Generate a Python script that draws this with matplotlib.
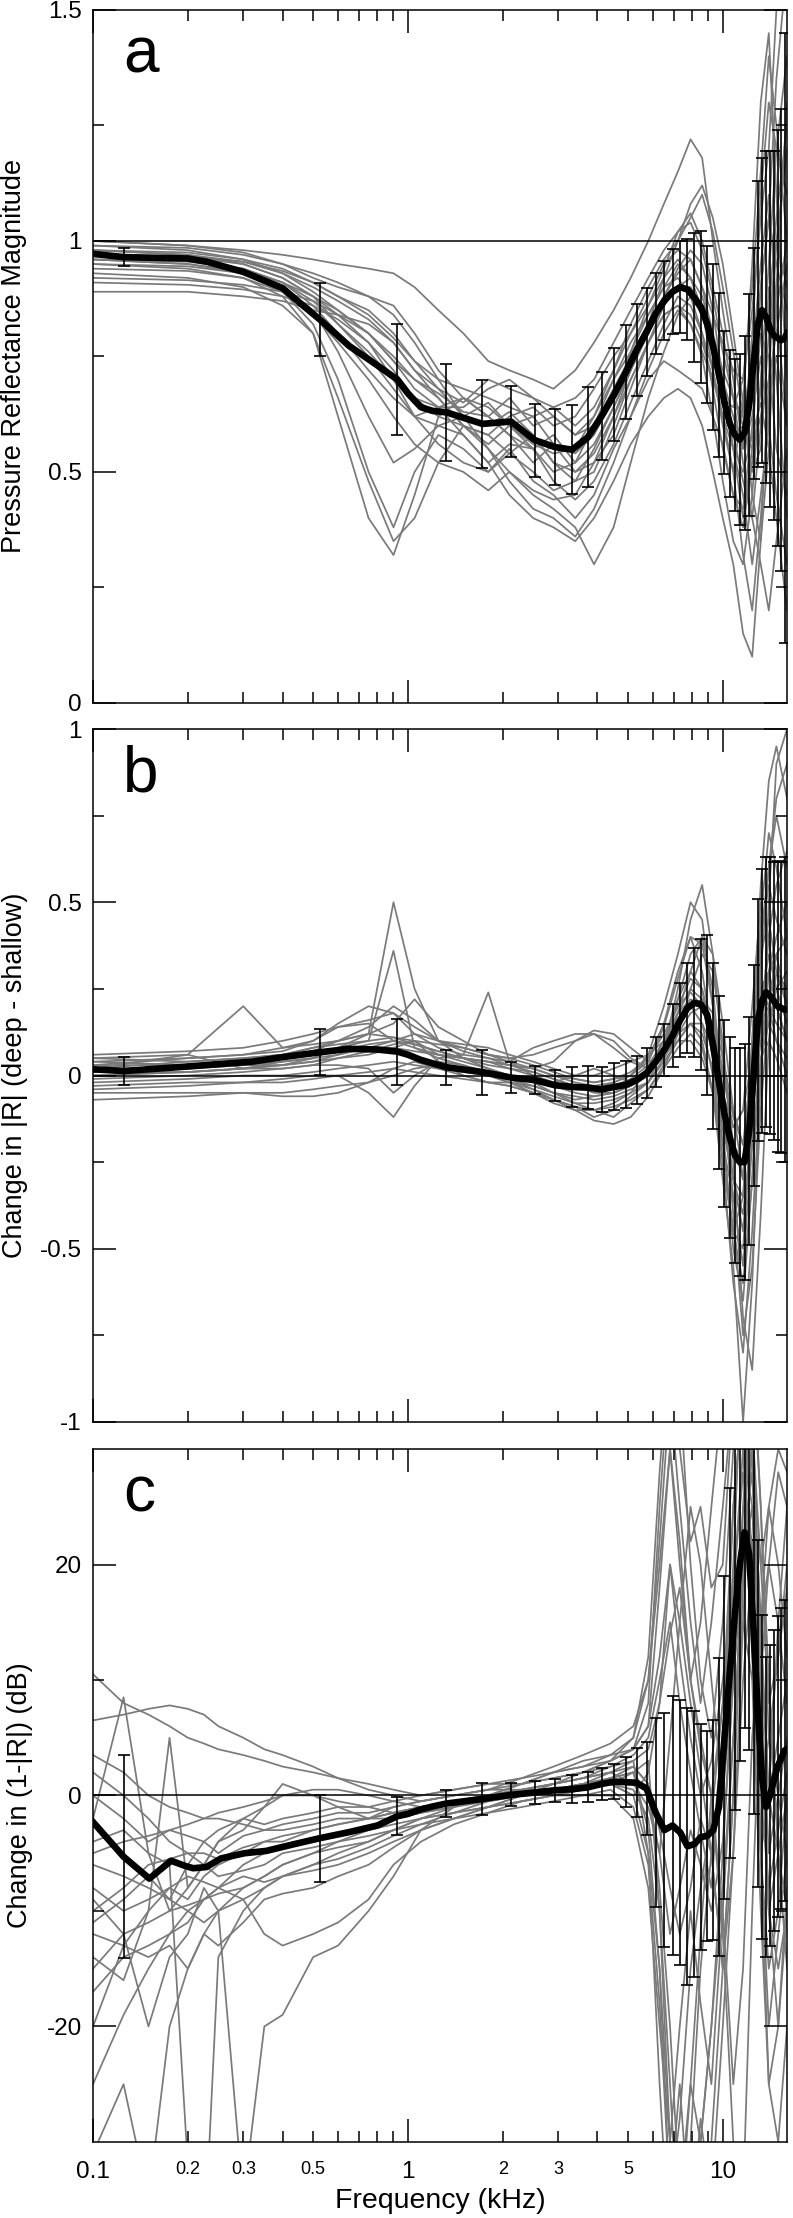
import matplotlib
matplotlib.use("Agg")
import matplotlib.pyplot as plt
import numpy as np
from matplotlib.ticker import FixedLocator, FixedFormatter

plt.rcParams['font.family'] = ['Liberation Sans', 'DejaVu Sans']

# frequencies (kHz) where the error bars sit
err_freq = [0.125, 0.525, 0.925, 1.325, 1.725, 2.125, 2.525, 2.925, 3.325, 3.725,
            4.125, 4.525, 4.925, 5.325, 5.725, 6.125, 6.525, 6.925, 7.325, 7.725,
            8.125, 8.525, 8.925, 9.325, 9.725, 10.125, 10.525, 10.925, 11.325, 11.725,
            12.125, 12.525, 12.925, 13.325, 13.725, 14.125, 14.525, 14.925, 15.325, 15.725]

# ---- panel a: pressure reflectance magnitude ----
a_err_mean = [0.965, 0.83, 0.70, 0.629, 0.604, 0.609, 0.569, 0.554, 0.548, 0.575,
              0.621, 0.668, 0.716, 0.764, 0.803, 0.843, 0.871, 0.89, 0.90, 0.895,
              0.877, 0.857, 0.82, 0.77, 0.71, 0.65, 0.605, 0.58, 0.57, 0.585,
              0.645, 0.735, 0.82, 0.85, 0.835, 0.81, 0.795, 0.79, 0.785, 0.79]
a_err_hw = [0.02, 0.078, 0.12, 0.105, 0.095, 0.077, 0.079, 0.082, 0.096, 0.108,
            0.095, 0.1, 0.102, 0.1, 0.095, 0.087, 0.085, 0.092, 0.1, 0.11,
            0.14, 0.165, 0.17, 0.18, 0.177, 0.155, 0.16, 0.165, 0.185, 0.21,
            0.24, 0.25, 0.31, 0.33, 0.36, 0.385, 0.4, 0.45, 0.5, 0.66]
a_extra_f = [0.1, 0.2, 0.23, 0.3, 0.4, 0.45, 0.65, 0.81, 1.0, 1.1, 1.2, 16.0]
a_extra_mean = [0.972, 0.962, 0.955, 0.933, 0.898, 0.868, 0.773, 0.728, 0.67, 0.64, 0.632, 0.80]

# ---- panel b: change in |R| ----
b_err_mean = [0.013, 0.067, 0.069, 0.024, 0.01, -0.006, -0.013, -0.028, -0.033, -0.035,
              -0.04, -0.033, -0.027, -0.013, 0.007, 0.04, 0.075, 0.115, 0.16, 0.195,
              0.21, 0.205, 0.175, 0.085, -0.02, -0.11, -0.18, -0.23, -0.25, -0.25,
              -0.16, 0.0, 0.16, 0.215, 0.24, 0.23, 0.215, 0.2, 0.195, 0.19]
b_err_hw = [0.04, 0.066, 0.095, 0.05, 0.065, 0.045, 0.04, 0.045, 0.057, 0.063,
            0.066, 0.068, 0.068, 0.07, 0.073, 0.072, 0.075, 0.09, 0.107, 0.13,
            0.157, 0.19, 0.23, 0.24, 0.25, 0.27, 0.29, 0.31, 0.33, 0.34,
            0.33, 0.32, 0.35, 0.38, 0.39, 0.4, 0.4, 0.42, 0.42, 0.44]
b_extra_f = [0.1, 0.18, 0.32, 0.4, 0.65, 0.8, 1.0, 1.1, 1.2, 16.0]
b_extra_mean = [0.018, 0.023, 0.04, 0.053, 0.077, 0.075, 0.06, 0.045, 0.035, 0.19]

# ---- panel c: change in (1-|R|) dB ----
c_err_mean = [-5.3, -3.7, -1.8, -0.7, -0.3, 0.05, 0.25, 0.45, 0.55, 0.7,
              1.0, 1.2, 1.15, 1.1, 0.6, -1.5, -3.0, -2.6, -3.2, -4.4,
              -4.2, -3.6, -3.5, -3.0, -1.0, 5.0, 10.6, 15.7, 20.0, 22.8,
              20.9, 14.4, 7.1, 1.6, -1.0, 0.0, 1.3, 2.5, 3.2, 3.9]
c_err_hw = [8.8, 3.75, 1.65, 1.2, 1.4, 1.0, 1.0, 1.0, 1.2, 1.3,
            1.4, 1.5, 2.15, 3.0, 4.0, 8.2, 10.1, 11.2, 11.5, 12.0,
            11.5, 9.8, 9.1, 9.5, 12.9, 14.0, 16.0, 17.0, 17.0, 17.0,
            17.0, 16.0, 15.0, 14.0, 13.0, 13.0, 13.0, 13.0, 13.0, 13.0]
c_extra_f = [0.1, 0.151, 0.177, 0.196, 0.208, 0.229, 0.255, 0.303, 0.355, 0.43,
             0.654, 0.8, 1.0, 1.1, 1.2, 16.0]
c_extra_mean = [-2.3, -7.2, -5.65, -6.1, -6.3, -6.2, -5.45, -5.0, -4.8, -4.25,
                -3.16, -2.6, -1.6, -1.2, -0.95, 4.0]

# individual ears (gray traces)
ab_freq = [0.1, 0.2, 0.3, 0.4, 0.5, 0.6, 0.75, 0.9, 1.05, 1.25, 1.5, 1.8, 2.1, 2.5, 2.9,
           3.4, 3.9, 4.5, 5.1, 5.8, 6.5, 7.2, 7.9, 8.6, 9.3, 10.0, 10.8, 11.6, 12.4, 13.2,
           14.0, 14.8, 16.0]

a_ears = [
    [1.0, 0.99, 0.98, 0.97, 0.96, 0.95, 0.94, 0.93, 0.90, 0.85, 0.80, 0.74, 0.72, 0.70, 0.68, 0.72, 0.78, 0.85, 0.92, 1.0, 1.08, 1.15, 1.22, 1.18, 1.0, 0.85, 0.70, 0.55, 0.80, 1.10, 1.30, 1.20, 1.10],
    [0.98, 0.97, 0.95, 0.92, 0.88, 0.82, 0.75, 0.68, 0.62, 0.60, 0.62, 0.65, 0.60, 0.55, 0.58, 0.52, 0.56, 0.64, 0.72, 0.80, 0.88, 0.94, 0.98, 0.95, 0.85, 0.70, 0.55, 0.40, 0.55, 0.90, 1.05, 0.95, 0.85],
    [0.96, 0.95, 0.93, 0.89, 0.82, 0.70, 0.50, 0.38, 0.50, 0.58, 0.55, 0.50, 0.55, 0.48, 0.45, 0.40, 0.45, 0.55, 0.62, 0.72, 0.80, 0.85, 0.82, 0.75, 0.62, 0.48, 0.35, 0.30, 0.45, 0.70, 0.95, 1.20, 1.40],
    [0.93, 0.92, 0.90, 0.86, 0.80, 0.62, 0.40, 0.32, 0.45, 0.62, 0.66, 0.62, 0.58, 0.55, 0.50, 0.52, 0.60, 0.70, 0.78, 0.84, 0.90, 0.95, 0.92, 0.85, 0.78, 0.70, 0.62, 0.55, 0.62, 0.75, 0.60, 0.45, 0.30],
    [0.89, 0.89, 0.88, 0.87, 0.85, 0.84, 0.82, 0.78, 0.72, 0.66, 0.60, 0.58, 0.62, 0.64, 0.60, 0.62, 0.68, 0.75, 0.80, 0.86, 0.92, 0.96, 0.92, 0.85, 0.72, 0.60, 0.50, 0.65, 0.95, 1.30, 1.45, 1.10, 0.70],
    [0.97, 0.96, 0.94, 0.91, 0.86, 0.80, 0.72, 0.66, 0.62, 0.64, 0.66, 0.62, 0.66, 0.60, 0.62, 0.58, 0.62, 0.70, 0.76, 0.84, 0.90, 0.92, 0.88, 0.80, 0.68, 0.55, 0.45, 0.42, 0.60, 0.80, 0.75, 0.55, 0.45],
    [0.99, 0.98, 0.96, 0.93, 0.90, 0.87, 0.83, 0.78, 0.72, 0.68, 0.65, 0.70, 0.68, 0.66, 0.62, 0.58, 0.60, 0.68, 0.75, 0.82, 0.88, 0.93, 0.96, 0.90, 0.80, 0.68, 0.58, 0.60, 0.75, 0.95, 1.10, 0.85, 0.60],
    [0.95, 0.94, 0.92, 0.88, 0.80, 0.66, 0.48, 0.35, 0.40, 0.52, 0.60, 0.55, 0.48, 0.42, 0.40, 0.36, 0.42, 0.52, 0.62, 0.70, 0.74, 0.72, 0.70, 0.68, 0.62, 0.56, 0.45, 0.38, 0.52, 0.68, 0.85, 1.05, 1.25],
    [0.97, 0.965, 0.95, 0.92, 0.88, 0.84, 0.78, 0.72, 0.66, 0.62, 0.60, 0.56, 0.60, 0.62, 0.56, 0.50, 0.52, 0.58, 0.68, 0.78, 0.86, 0.90, 0.92, 0.88, 0.80, 0.72, 0.66, 0.60, 0.55, 0.62, 0.70, 0.80, 0.95],
    [0.98, 0.975, 0.96, 0.94, 0.91, 0.88, 0.84, 0.79, 0.74, 0.68, 0.62, 0.60, 0.63, 0.58, 0.52, 0.48, 0.50, 0.60, 0.70, 0.78, 0.84, 0.86, 0.84, 0.78, 0.70, 0.62, 0.55, 0.50, 0.58, 0.65, 0.55, 0.40, 0.20],
    [0.94, 0.935, 0.92, 0.89, 0.84, 0.78, 0.70, 0.62, 0.56, 0.52, 0.50, 0.46, 0.50, 0.45, 0.42, 0.38, 0.30, 0.38, 0.52, 0.66, 0.76, 0.84, 0.88, 0.84, 0.76, 0.66, 0.55, 0.45, 0.30, 0.45, 0.60, 0.85, 1.00],
    [0.96, 0.955, 0.94, 0.91, 0.87, 0.82, 0.76, 0.70, 0.66, 0.64, 0.64, 0.68, 0.70, 0.66, 0.64, 0.66, 0.70, 0.78, 0.85, 0.92, 0.98, 1.02, 1.04, 0.98, 0.88, 0.76, 0.66, 0.62, 0.75, 0.90, 1.05, 1.35, 1.60],
    [0.92, 0.915, 0.905, 0.89, 0.87, 0.84, 0.80, 0.74, 0.68, 0.64, 0.58, 0.52, 0.56, 0.55, 0.48, 0.44, 0.48, 0.56, 0.65, 0.74, 0.82, 0.88, 0.86, 0.80, 0.72, 0.62, 0.50, 0.32, 0.20, 0.40, 0.65, 0.75, 0.60],
    [1.0, 0.99, 0.975, 0.95, 0.92, 0.90, 0.88, 0.86, 0.80, 0.72, 0.66, 0.64, 0.60, 0.56, 0.54, 0.55, 0.62, 0.72, 0.82, 0.90, 0.96, 1.00, 1.05, 1.10, 1.02, 0.90, 0.76, 0.62, 0.50, 0.55, 0.80, 1.00, 0.90],
    [0.99, 0.985, 0.97, 0.95, 0.93, 0.91, 0.88, 0.84, 0.78, 0.70, 0.62, 0.55, 0.50, 0.46, 0.44, 0.45, 0.52, 0.62, 0.72, 0.82, 0.92, 1.00, 1.08, 1.12, 1.05, 0.95, 0.80, 0.65, 0.45, 0.35, 0.55, 0.90, 1.30],
    [0.95, 0.945, 0.93, 0.90, 0.85, 0.76, 0.62, 0.52, 0.55, 0.60, 0.58, 0.52, 0.45, 0.40, 0.38, 0.35, 0.40, 0.48, 0.56, 0.62, 0.66, 0.68, 0.66, 0.60, 0.50, 0.40, 0.30, 0.15, 0.10, 0.35, 0.70, 1.00, 1.20],
    [0.97, 0.965, 0.955, 0.935, 0.91, 0.88, 0.85, 0.80, 0.74, 0.70, 0.68, 0.66, 0.64, 0.62, 0.64, 0.60, 0.64, 0.72, 0.80, 0.88, 0.95, 0.98, 0.96, 0.90, 0.84, 0.78, 0.72, 0.70, 0.85, 1.05, 1.20, 1.50, 1.60],
    [0.91, 0.905, 0.895, 0.88, 0.86, 0.83, 0.78, 0.70, 0.62, 0.56, 0.52, 0.50, 0.54, 0.50, 0.46, 0.48, 0.55, 0.64, 0.72, 0.80, 0.86, 0.90, 0.90, 0.86, 0.78, 0.68, 0.58, 0.48, 0.40, 0.30, 0.20, 0.35, 0.55],
    [0.98, 0.97, 0.955, 0.93, 0.89, 0.85, 0.80, 0.74, 0.70, 0.66, 0.60, 0.58, 0.54, 0.58, 0.52, 0.50, 0.54, 0.62, 0.70, 0.78, 0.84, 0.86, 0.82, 0.76, 0.70, 0.66, 0.64, 0.70, 0.90, 1.15, 1.40, 1.25, 1.00],
    [0.96, 0.95, 0.935, 0.91, 0.88, 0.85, 0.80, 0.75, 0.70, 0.67, 0.63, 0.62, 0.58, 0.52, 0.56, 0.54, 0.58, 0.66, 0.76, 0.86, 0.94, 1.02, 1.06, 1.00, 0.90, 0.80, 0.66, 0.52, 0.40, 0.60, 0.90, 0.70, 0.40],
]

b_ears = [
    [0.03, 0.05, 0.06, 0.08, 0.09, 0.10, 0.12, 0.15, 0.22, 0.14, 0.10, 0.06, 0.04, 0.02, 0.00, -0.02, -0.03, -0.02, 0.00, 0.05, 0.15, 0.30, 0.40, 0.30, 0.10, -0.20, -0.45, -0.50, -0.10, 0.40, 0.55, 0.45, 0.35],
    [0.00, 0.01, 0.02, 0.03, 0.05, 0.08, 0.12, 0.50, 0.25, 0.10, 0.05, 0.02, 0.00, -0.02, -0.03, -0.05, -0.06, -0.05, -0.03, 0.00, 0.08, 0.18, 0.25, 0.22, 0.05, -0.15, -0.30, -0.35, 0.00, 0.25, 0.30, 0.20, 0.10],
    [-0.03, -0.02, -0.02, -0.01, 0.00, 0.00, -0.05, -0.12, -0.03, 0.05, 0.03, 0.00, -0.02, -0.05, -0.08, -0.10, -0.10, -0.08, -0.05, 0.02, 0.10, 0.22, 0.30, 0.25, 0.05, -0.25, -0.60, -0.80, -0.45, 0.00, 0.30, 0.40, 0.50],
    [0.05, 0.06, 0.20, 0.08, 0.10, 0.14, 0.15, 0.10, 0.08, 0.06, 0.05, 0.04, 0.03, 0.02, 0.00, -0.01, -0.02, -0.01, 0.00, 0.06, 0.20, 0.35, 0.50, 0.45, 0.20, -0.10, -0.35, -0.55, -0.20, 0.30, 0.60, 0.75, 0.60],
    [-0.07, -0.06, -0.05, -0.05, -0.04, -0.03, -0.02, 0.00, 0.02, 0.03, 0.02, 0.00, -0.02, -0.04, -0.06, -0.08, -0.08, -0.07, -0.05, -0.02, 0.05, 0.12, 0.15, 0.12, 0.02, -0.10, -0.20, -0.30, -0.10, 0.10, 0.15, 0.10, 0.05],
    [0.02, 0.02, 0.03, 0.04, 0.05, 0.08, 0.10, 0.36, 0.08, 0.05, 0.06, 0.24, 0.04, 0.00, -0.02, 0.00, 0.02, 0.00, -0.02, 0.02, 0.10, 0.18, 0.22, 0.20, 0.15, 0.00, -0.15, -0.10, 0.20, 0.50, 0.40, 0.20, 0.10],
    [0.04, 0.05, 0.06, 0.07, 0.10, 0.15, 0.20, 0.18, 0.12, 0.08, 0.06, 0.05, 0.04, 0.08, 0.10, 0.12, 0.12, 0.08, 0.04, 0.02, 0.05, 0.12, 0.18, 0.20, 0.15, 0.02, -0.12, -0.20, 0.05, 0.25, 0.20, 0.10, 0.00],
    [0.01, 0.01, 0.02, 0.03, 0.04, 0.05, 0.06, 0.08, 0.10, 0.04, 0.00, -0.02, -0.03, -0.05, -0.07, -0.09, -0.12, -0.10, -0.06, -0.02, 0.08, 0.22, 0.35, 0.40, 0.25, -0.05, -0.40, -0.75, -0.55, -0.10, 0.20, 0.35, 0.20],
    [-0.05, -0.05, -0.05, -0.06, -0.06, -0.05, -0.02, 0.02, 0.04, 0.02, 0.00, -0.02, -0.02, -0.03, -0.05, -0.07, -0.06, -0.05, -0.03, 0.00, 0.06, 0.10, 0.10, 0.05, -0.05, -0.20, -0.35, -0.40, -0.20, 0.05, 0.10, 0.05, -0.05],
    [0.02, 0.06, 0.02, 0.04, 0.05, 0.06, 0.08, 0.10, 0.09, 0.07, 0.05, 0.03, 0.02, 0.00, -0.02, -0.04, -0.04, -0.03, -0.01, 0.03, 0.10, 0.20, 0.28, 0.25, 0.12, -0.10, -0.30, -0.45, -0.10, 0.35, 0.45, 0.30, 0.25],
    [0.00, 0.01, 0.02, 0.02, 0.03, 0.05, 0.07, 0.09, 0.10, 0.06, 0.04, 0.02, 0.00, -0.02, -0.05, -0.08, -0.10, -0.12, -0.08, -0.04, 0.03, 0.10, 0.15, 0.10, -0.05, -0.30, -0.55, -1.00, -0.60, 0.00, 0.50, 0.90, 1.00],
    [0.03, 0.03, 0.04, 0.05, 0.07, 0.10, 0.12, 0.11, 0.09, 0.07, 0.05, 0.04, 0.03, 0.02, 0.04, 0.10, 0.12, 0.10, 0.05, 0.02, 0.08, 0.25, 0.45, 0.55, 0.35, 0.05, -0.20, -0.25, 0.10, 0.45, 0.70, 0.60, 0.40],
    [-0.02, -0.01, 0.00, 0.00, 0.01, 0.02, 0.03, 0.04, 0.03, 0.02, 0.01, 0.00, -0.01, -0.03, -0.05, -0.06, -0.07, -0.06, -0.04, -0.02, 0.04, 0.10, 0.15, 0.15, 0.08, -0.05, -0.15, -0.10, 0.05, 0.15, 0.20, 0.15, 0.10],
    [0.05, 0.04, 0.05, 0.06, 0.08, 0.09, 0.10, 0.11, 0.10, 0.09, 0.08, 0.06, 0.05, 0.03, 0.01, -0.01, -0.02, -0.01, 0.01, 0.05, 0.12, 0.20, 0.24, 0.20, 0.08, -0.15, -0.50, -0.65, -0.30, 0.15, 0.40, 0.55, 0.65],
    [0.06, 0.07, 0.08, 0.10, 0.12, 0.14, 0.16, 0.18, 0.14, 0.10, 0.08, 0.06, 0.05, 0.06, 0.08, 0.10, 0.13, 0.12, 0.08, 0.04, 0.06, 0.18, 0.30, 0.40, 0.35, 0.15, -0.10, -0.30, 0.10, 0.55, 0.85, 0.95, 0.80],
    [-0.01, 0.00, 0.01, 0.02, 0.03, 0.03, 0.02, -0.05, 0.00, 0.04, 0.03, 0.01, -0.01, -0.04, -0.07, -0.10, -0.13, -0.14, -0.12, -0.06, 0.02, 0.12, 0.25, 0.35, 0.30, 0.10, -0.25, -0.70, -0.85, -0.40, 0.10, 0.30, 0.20],
    [0.02, 0.04, 0.05, 0.06, 0.08, 0.10, 0.14, 0.20, 0.16, 0.10, 0.07, 0.05, 0.03, 0.01, -0.01, -0.03, -0.04, -0.02, 0.00, 0.04, 0.14, 0.28, 0.40, 0.38, 0.20, -0.05, -0.30, -0.40, -0.15, 0.20, 0.35, 0.25, 0.15],
    [0.04, 0.03, 0.04, 0.05, 0.06, 0.07, 0.09, 0.10, 0.12, 0.10, 0.09, 0.08, 0.06, 0.04, 0.02, 0.00, 0.00, 0.02, 0.04, 0.06, 0.10, 0.16, 0.20, 0.15, 0.00, -0.25, -0.45, -0.35, 0.05, 0.40, 0.60, 0.80, 0.90],
    [-0.04, -0.03, -0.02, -0.02, -0.01, 0.00, 0.01, 0.02, 0.01, 0.00, -0.01, -0.02, -0.03, -0.05, -0.07, -0.09, -0.10, -0.09, -0.07, -0.04, 0.02, 0.08, 0.12, 0.08, -0.05, -0.25, -0.45, -0.60, -0.30, 0.05, 0.15, 0.25, 0.30],
    [0.01, 0.02, 0.03, 0.03, 0.04, 0.06, 0.08, 0.08, 0.07, 0.06, 0.05, 0.04, 0.02, 0.01, -0.01, -0.03, -0.05, -0.05, -0.03, 0.00, 0.07, 0.15, 0.20, 0.22, 0.18, 0.05, -0.10, -0.20, -0.05, 0.20, 0.30, 0.35, 0.40],
]

c_freq = [0.1, 0.125, 0.15, 0.175, 0.2, 0.225, 0.25, 0.3, 0.35, 0.4, 0.5, 0.6, 0.75, 0.9, 1.1,
          1.4, 1.8, 2.3, 2.9, 3.6, 4.4, 5.2, 5.8, 6.3, 6.8, 7.3, 7.9, 8.5, 9.2, 10.0,
          10.8, 11.6, 12.4, 13.2, 14.0, 15.0, 16.0]

c_ears = [
    [10.5, 8.0, 7.0, 6.0, 5.0, 4.5, 4.0, 3.5, 3.0, 2.5, 2.0, 1.5, 1.0, 0.5, 0.0, 0.5, 1.0, 1.5, 2.0, 2.5, 3.0, 4.0, 6.0, 12.0, 20.0, 15.0, 8.0, 2.0, -5.0, -15.0, -5.0, 15.0, 32.0, 20.0, 8.0, 12.0, 18.0],
    [6.5, 7.0, 7.5, 7.8, 7.5, 7.0, 6.0, 5.0, 4.0, 3.5, 2.5, 1.5, 0.5, 0.0, -0.5, 0.0, 0.5, 0.5, 1.0, 1.5, 2.0, 2.5, 1.0, -8.0, -20.0, -35.0, -25.0, -12.0, 0.0, 8.0, 25.0, 35.0, 30.0, 5.0, -10.0, -5.0, 0.0],
    [-2.0, 8.5, -5.0, -10.0, -8.0, -6.0, -4.0, -3.0, -1.0, 1.0, 0.0, -1.0, -2.0, -2.0, -1.5, -1.0, 0.0, 0.5, 0.5, 1.0, 1.5, 2.0, 0.0, -5.0, -12.0, -8.0, -3.0, -6.0, -10.0, -4.0, 10.0, 25.0, 22.0, 0.0, -8.0, -3.0, 2.0],
    [-9.0, -12.0, -20.0, -14.0, -12.0, -8.0, -10.0, -8.0, -7.0, -6.0, -5.0, -4.5, -4.0, -3.0, -2.0, -1.0, 0.0, 0.5, 0.0, 0.5, 1.0, 0.5, -2.0, -10.0, -25.0, -40.0, -30.0, -15.0, -5.0, 5.0, 20.0, 40.0, 35.0, 10.0, -5.0, 0.0, 5.0],
    [-14.0, -16.0, -10.0, 5.0, -8.0, -6.0, -4.0, -2.0, -1.0, 0.0, 0.0, -0.5, -1.0, -1.5, -1.0, -0.5, 0.0, 0.0, 0.5, 1.0, 1.0, 0.0, 2.0, 8.0, 20.0, 12.0, 5.0, 0.0, 3.0, 10.0, 18.0, 30.0, 25.0, 12.0, 0.0, -5.0, -10.0],
    [-25.0, -19.0, -15.0, -12.0, -11.0, -9.0, -8.0, -7.0, -7.5, -7.0, -6.0, -5.5, -4.5, -3.5, -2.5, -1.5, -0.5, 0.0, 0.5, 1.0, 2.0, 3.0, 4.0, 8.0, 14.0, 18.0, 10.0, 4.0, 0.0, -10.0, -25.0, -15.0, 5.0, 15.0, 25.0, 20.0, 12.0],
    [-31.0, -25.0, -35.0, -20.0, -15.0, -12.0, -13.0, -11.0, -9.0, -8.5, -8.0, -7.0, -6.0, -4.5, -3.0, -2.0, -1.0, -0.5, 0.0, 0.5, 1.0, 2.0, -3.0, -15.0, -30.0, -20.0, -10.0, -18.0, -25.0, -10.0, 5.0, 20.0, 40.0, 25.0, 5.0, 0.0, -5.0],
    [-4.0, -3.0, -5.0, -6.0, -32.0, -40.0, -14.0, -10.0, -8.0, -7.0, -6.0, -5.0, -4.0, -3.0, -2.0, -1.5, -1.0, 0.0, 1.0, 1.5, 2.0, 1.0, -1.0, -5.0, 5.0, 15.0, 25.0, 20.0, 10.0, 0.0, 10.0, 22.0, 28.0, 10.0, -10.0, -20.0, -8.0],
    [-8.0, -10.0, -9.0, -8.0, -7.0, -7.5, -8.0, -9.0, -12.0, -13.0, -12.0, -11.0, -9.0, -6.0, -4.0, -2.5, -1.5, -0.5, 0.0, 0.5, 1.5, 2.5, 1.0, -3.0, -8.0, -12.0, -8.0, -2.0, -5.0, -15.0, 0.0, 18.0, 30.0, 15.0, 0.0, 5.0, 10.0],
    [-12.0, -13.0, -14.0, -13.0, -15.0, -12.0, -10.0, -35.0, -20.0, -19.0, -14.0, -13.0, -10.0, -7.0, -3.0, -1.0, 0.0, 1.0, 2.0, 3.0, 3.5, 4.0, 6.0, 18.0, 30.0, 22.0, 10.0, 5.0, 0.0, -12.0, -30.0, -35.0, -10.0, 10.0, 20.0, 15.0, 8.0],
    [3.5, 2.0, 0.0, -1.0, -1.5, -2.0, -2.0, -2.5, -3.0, -3.0, -2.5, -2.0, -2.0, -1.5, -1.0, -0.5, 0.0, 0.5, 1.0, 1.5, 2.5, 3.5, 5.0, 10.0, 15.0, 8.0, 2.0, -3.0, -8.0, 5.0, 25.0, 35.0, 20.0, -5.0, -15.0, -10.0, 0.0],
    [-17.0, -14.0, -13.0, -12.0, -10.0, -9.0, -8.0, -6.0, -5.0, -4.5, -4.0, -3.5, -3.0, -2.5, -2.0, -1.5, -1.0, -0.5, 0.0, 0.0, 0.5, -1.0, -6.0, -18.0, -35.0, -28.0, -15.0, -8.0, -2.0, 8.0, 18.0, 28.0, 20.0, -5.0, -20.0, -12.0, -5.0],
    [-5.0, -4.0, -3.5, -3.0, -2.5, -2.0, -1.5, -1.0, -0.5, 0.0, 0.5, 0.5, 0.0, -0.5, -1.0, -0.5, 0.0, 1.0, 2.0, 2.5, 3.5, 5.0, 10.0, 22.0, 35.0, 25.0, 15.0, 8.0, 15.0, 25.0, 35.0, 32.0, 15.0, 0.0, 5.0, 12.0, 20.0],
    [-10.0, -8.0, -6.0, -5.5, -5.0, -6.0, -7.0, -6.5, -6.0, -5.0, -4.5, -4.0, -3.5, -3.0, -2.5, -2.0, -1.5, -1.0, -0.5, 0.0, 0.0, -2.0, -8.0, -20.0, -30.0, -38.0, -25.0, -30.0, -20.0, -5.0, 10.0, 20.0, 25.0, 8.0, -10.0, -15.0, -10.0],
    [-20.0, -13.0, -10.0, -8.0, -9.0, -7.0, -6.0, -5.0, -4.0, -4.0, -3.0, -2.5, -2.0, -1.5, -1.0, -0.5, 0.0, 0.5, 1.0, 2.0, 3.0, 5.0, 12.0, 28.0, 40.0, 35.0, 20.0, 10.0, 5.0, 15.0, 30.0, 38.0, 30.0, 15.0, 20.0, 28.0, 25.0],
    [0.0, -2.0, -4.0, -3.0, -3.5, -4.0, -3.0, -2.0, -2.5, -2.0, -1.5, -1.0, -1.0, -0.5, 0.0, 0.5, 1.0, 1.0, 1.5, 2.0, 2.5, 3.0, -5.0, -25.0, -40.0, -38.0, -35.0, -30.0, -20.0, -8.0, 5.0, 15.0, 10.0, -10.0, -25.0, -20.0, -10.0],
    [-6.0, -7.0, -8.0, -9.0, -10.0, -11.0, -10.0, -9.0, -8.0, -7.0, -6.5, -6.0, -5.0, -4.0, -3.0, -2.0, -1.0, 0.0, 0.5, 1.0, 1.5, 2.0, 3.0, -10.0, -30.0, -40.0, -32.0, -38.0, -30.0, -15.0, 0.0, 25.0, 38.0, 25.0, 10.0, -5.0, -15.0],
    [2.0, 0.0, -2.0, -4.0, -5.0, -5.0, -5.5, -4.5, -4.0, -3.5, -3.0, -2.5, -2.0, -1.0, -0.5, 0.0, 0.5, 1.0, 1.5, 2.0, 3.0, 4.0, 8.0, 25.0, 38.0, 30.0, 22.0, 25.0, 18.0, 20.0, 35.0, 40.0, 30.0, 20.0, 25.0, 30.0, 28.0],
    [-15.0, -12.0, -11.0, -10.0, -9.5, -9.0, -8.5, -8.0, -7.0, -6.0, -5.0, -4.0, -3.0, -2.0, -1.5, -1.0, -0.5, 0.0, 0.5, 1.0, 1.0, 0.0, -5.0, -15.0, -35.0, -25.0, -38.0, -28.0, -35.0, -20.0, -5.0, 10.0, 20.0, -5.0, -25.0, -30.0, -20.0],
    [-11.0, -9.0, -7.0, -9.0, -6.0, -4.0, -5.0, -3.5, -3.0, -2.5, -2.0, -1.5, -1.5, -1.0, -0.5, 0.0, 0.5, 1.5, 2.5, 3.5, 4.5, 6.0, 10.0, 20.0, 30.0, 20.0, 10.0, 15.0, 25.0, 35.0, 40.0, 30.0, 12.0, -5.0, 0.0, 15.0, 25.0],
]

GRAY = '#7a7a7a'


def draw_panel(ax, ears_f, ears, extra_f, extra_mean, err_mean, err_hw, ref_y):
    for ear in ears:
        ax.plot(ears_f, ear, color=GRAY, lw=1.25, zorder=1)
    ax.axhline(ref_y, color='k', lw=1.1, zorder=2)
    # mean line runs through the error-bar centres plus the extra points
    f = np.array(list(extra_f) + list(err_freq))
    m = np.array(list(extra_mean) + list(err_mean))
    order = np.argsort(f)
    ax.plot(f[order], m[order], color='k', lw=4.8, zorder=4, solid_joinstyle='round')
    ax.errorbar(err_freq, err_mean, yerr=err_hw, fmt='none', ecolor='k',
                elinewidth=1.2, capsize=4.5, capthick=1.2, zorder=3)


def style_axes(ax, ylim, major, minor, labels, show_x):
    ax.set_xscale('log')
    ax.set_xlim(0.1, 16)
    ax.set_ylim(*ylim)
    ax.xaxis.set_major_locator(FixedLocator([0.1, 1, 10]))
    ax.xaxis.set_minor_locator(FixedLocator([0.2, 0.3, 0.4, 0.5, 0.6, 0.7, 0.8, 0.9,
                                             2, 3, 4, 5, 6, 7, 8, 9]))
    ax.yaxis.set_major_locator(FixedLocator(major))
    ax.yaxis.set_minor_locator(FixedLocator(minor))
    ax.yaxis.set_major_formatter(FixedFormatter(labels))
    ax.tick_params(which='both', direction='in', top=True, right=True, width=1.1)
    ax.tick_params(which='major', length=16.5)
    ax.tick_params(which='minor', length=8.2)
    ax.tick_params(axis='y', labelsize=17.5, pad=8)
    for s in ax.spines.values():
        s.set_linewidth(1.1)
    if show_x:
        ax.xaxis.set_major_formatter(FixedFormatter(['0.1', '1', '10']))
        ax.xaxis.set_minor_formatter(FixedFormatter(['0.2', '0.3', '', '0.5', '', '', '', '',
                                                     '2', '3', '', '5', '', '', '', '']))
        ax.tick_params(axis='x', which='major', labelsize=17.5, pad=13.5)
        ax.tick_params(axis='x', which='minor', labelsize=13, pad=13.5)
    else:
        ax.tick_params(axis='x', which='both', labelbottom=False)
        ax.xaxis.set_minor_formatter(FixedFormatter([]))


fig = plt.figure(figsize=(7.93, 22.18), dpi=100)
left, width, height = 0.1173, 0.8752, 0.3124
ax_a = fig.add_axes([left, 0.6831, width, height])
ax_b = fig.add_axes([left, 0.3589, width, height])
ax_c = fig.add_axes([left, 0.0343, width, height])

draw_panel(ax_a, ab_freq, a_ears, a_extra_f, a_extra_mean, a_err_mean, a_err_hw, 1.0)
style_axes(ax_a, (0, 1.5), [0, 0.5, 1, 1.5], [0.25, 0.75, 1.25], ['0', '0.5', '1', '1.5'], False)
ax_a.set_ylabel('Pressure Reflectance Magnitude', fontsize=19.5)
ax_a.yaxis.set_label_coords(-0.095, 0.5)

draw_panel(ax_b, ab_freq, b_ears, b_extra_f, b_extra_mean, b_err_mean, b_err_hw, 0.0)
style_axes(ax_b, (-1, 1), [-1, -0.5, 0, 0.5, 1], [-0.75, -0.25, 0.25, 0.75],
           ['-1', '-0.5', '0', '0.5', '1'], False)
ax_b.set_ylabel('Change in |R| (deep - shallow)', fontsize=19.5)
ax_b.yaxis.set_label_coords(-0.093, 0.5)

draw_panel(ax_c, c_freq, c_ears, c_extra_f, c_extra_mean, c_err_mean, c_err_hw, 0.0)
style_axes(ax_c, (-30, 30), [-20, 0, 20], [-10, 10], ['-20', '0', '20'], True)
ax_c.set_ylabel('Change in (1-|R|) (dB)', fontsize=19.5)
ax_c.yaxis.set_label_coords(-0.086, 0.5)
ax_c.set_xlabel('Frequency (kHz)', fontsize=20.5)
ax_c.xaxis.set_label_coords(0.5, -0.066)
ax_c.xaxis.label.set_va('top')

for ax, letter in [(ax_a, 'a'), (ax_b, 'b'), (ax_c, 'c')]:
    ax.text(0.043, 0.91, letter, transform=ax.transAxes, fontsize=46,
            ha='left', va='baseline', zorder=5)

fig.savefig('out.png', dpi=100)
